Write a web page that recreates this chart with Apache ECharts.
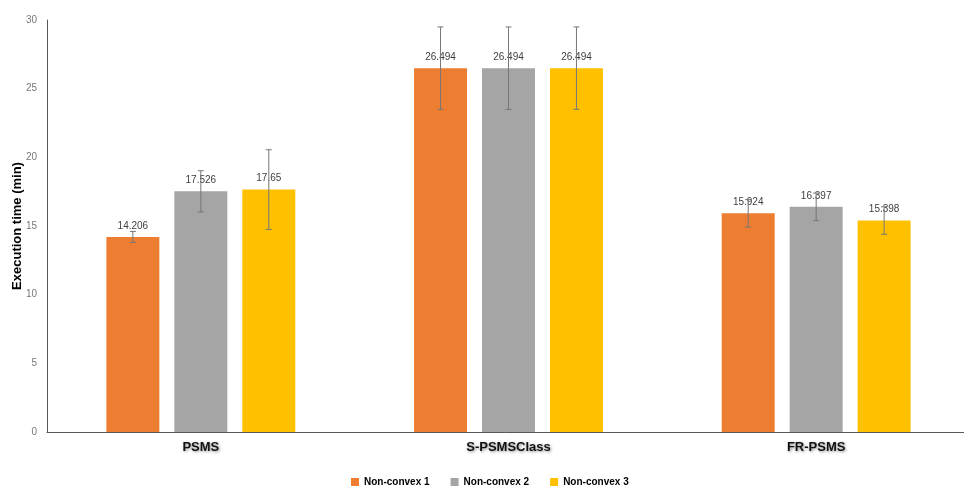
<!DOCTYPE html>
<html>
<head>
<meta charset="utf-8">
<script src="https://cdn.jsdelivr.net/npm/echarts@6/dist/echarts.min.js"></script>
<style>html,body{margin:0;padding:0;background:#fff;}#c{width:964px;height:487px;}</style>
</head>
<body>
<div id="c"></div>
<script>
const categories = ['PSMS', 'S-PSMSClass', 'FR-PSMS'];
const seriesNames = ['Non-convex 1', 'Non-convex 2', 'Non-convex 3'];
const nc1 = [14.206, 26.494, 15.924];
const nc2 = [17.526, 26.494, 16.397];
const nc3 = [17.65, 26.494, 15.398];
const err1 = [0.4, 3.0, 1.0];
const err2 = [1.5, 3.0, 1.0];
const err3 = [2.9, 3.0, 1.0];
const yTicks = [0, 5, 10, 15, 20, 25, 30];

const colors = ['#ED7D31', '#A5A5A5', '#FFC000'];
const values = [nc1, nc2, nc3];
const errs = [err1, err2, err3];
const BAR_GAP = 0.283, CAT_GAP = 0.386;
const FONT = 'Liberation Sans, Arial, sans-serif';

const chart = echarts.init(document.getElementById('c'));
const series = [];
values.forEach((v, s) => {
  series.push({
    name: seriesNames[s], type: 'bar', data: v,
    barGap: (BAR_GAP * 100) + '%', barCategoryGap: (CAT_GAP * 100) + '%',
    itemStyle: { color: colors[s] },
    label: { show: true, position: 'top', distance: 6, color: '#404040', fontSize: 10,
             fontFamily: FONT, formatter: p => String(p.value) }
  });
});
values.forEach((v, s) => {
  series.push({
    type: 'custom', name: seriesNames[s] + ' err', z: 5, silent: true,
    data: v.map((val, i) => [i, val, errs[s][i]]),
    renderItem: function (params, api) {
      const bw = api.size([1, 0])[0];
      const w = bw * (1 - CAT_GAP) / (3 + 2 * BAR_GAP);
      const off = (s - 1) * w * (1 + BAR_GAP);
      const c = api.coord([api.value(0), api.value(1)]);
      const x = c[0] + off;
      const hi = api.coord([api.value(0), api.value(1) + api.value(2)])[1];
      const lo = api.coord([api.value(0), api.value(1) - api.value(2)])[1];
      const st = { stroke: '#767676', lineWidth: 1 };
      return { type: 'group', children: [
        { type: 'line', shape: { x1: x, y1: hi, x2: x, y2: lo }, style: st },
        { type: 'line', shape: { x1: x - 3, y1: hi, x2: x + 3, y2: hi }, style: st },
        { type: 'line', shape: { x1: x - 3, y1: lo, x2: x + 3, y2: lo }, style: st }
      ]};
    }
  });
});

chart.setOption({
  animation: false,
  color: colors,
  grid: { left: 47, top: 20, width: 923, bottom: 55, containLabel: false, outerBoundsMode: 'none' },
  legend: {
    data: seriesNames, left: 346, top: 472, itemWidth: 8, itemHeight: 8, itemGap: 21,
    icon: 'rect',
    textStyle: { fontWeight: 'bold', fontSize: 10, color: '#000', fontFamily: FONT }
  },
  xAxis: {
    type: 'category', data: categories,
    axisLine: { lineStyle: { color: '#595959', width: 1 } },
    axisTick: { show: false },
    axisLabel: { fontWeight: 'bold', fontSize: 13, color: '#111', margin: 9,
                 fontFamily: FONT,
                 textShadowColor: 'rgba(0,0,0,0.45)', textShadowBlur: 3, textShadowOffsetX: 1, textShadowOffsetY: 1 }
  },
  yAxis: {
    type: 'value', min: yTicks[0], max: yTicks[yTicks.length - 1], interval: 5,
    name: 'Execution time (min)', nameLocation: 'middle', nameGap: 23, nameMoveOverlap: false,
    nameTextStyle: { fontWeight: 'bold', fontSize: 13, color: '#000', fontFamily: FONT },
    axisLine: { show: true, lineStyle: { color: '#595959', width: 1 } },
    axisTick: { show: false },
    splitLine: { show: false },
    axisLabel: { color: '#777', fontSize: 10, margin: 10, fontFamily: FONT }
  },
  series: series
});
</script>
</body>
</html>
